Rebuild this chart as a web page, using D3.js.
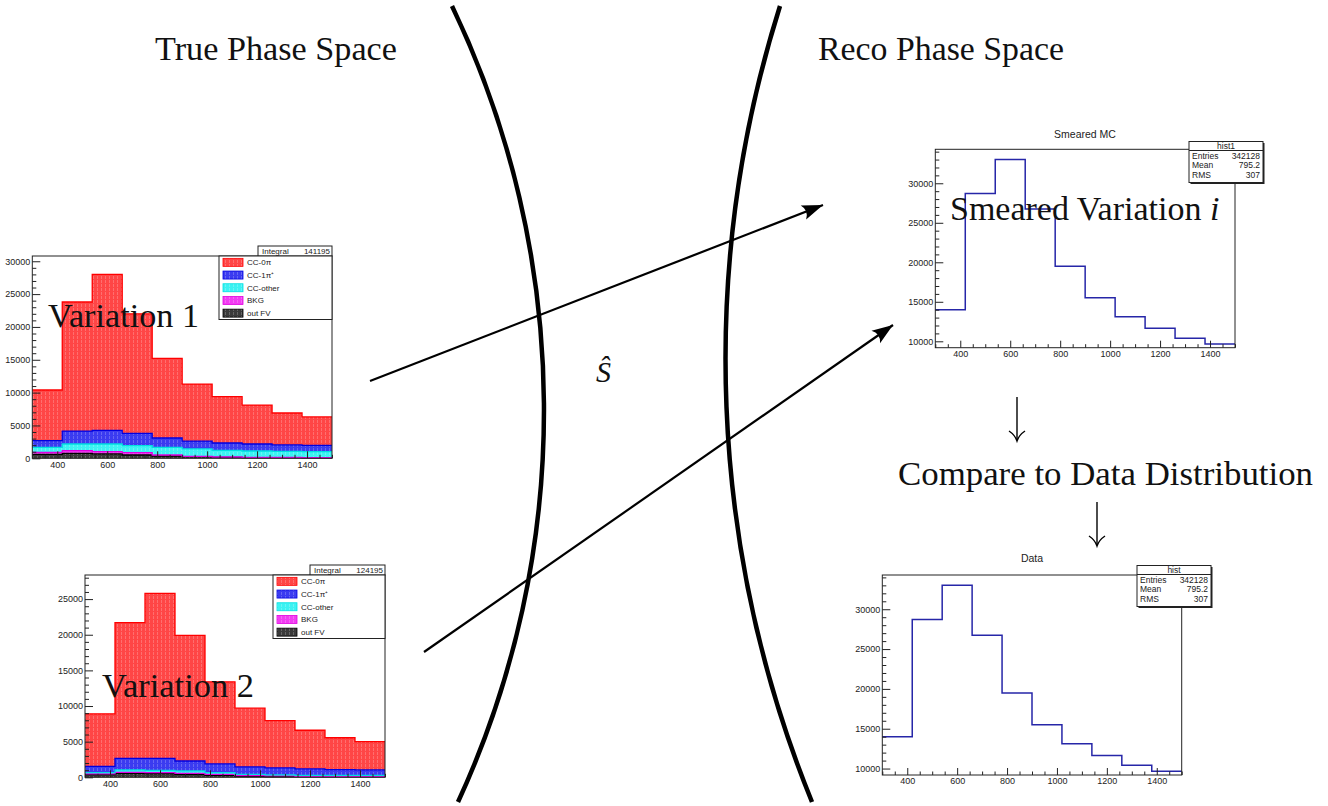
<!DOCTYPE html>
<html>
<head>
<meta charset="utf-8">
<script src="https://cdn.jsdelivr.net/npm/d3@7"></script>
<style>
  body { margin: 0; background: #fff; }
  svg { display: block; }
  .tick text { font-family: "Liberation Sans", Arial, sans-serif; font-size: 9px; fill: #222; }
  .tick line { stroke: #222; }
</style>
</head>
<body>
<svg width="1328" height="806"></svg>
<script>
var svg = d3.select("svg");

// ---- data ----
var binEdges = [300, 420, 540, 660, 780, 900, 1020, 1140, 1260, 1380, 1500];

// Variation 1 (stack components, bottom to top)
var v1OutFV   = [600, 750, 660, 500, 350, 250, 150, 100, 100, 60];
var v1Bkg     = [310, 410, 350, 360, 150, 50, 50, 50, 50, 40];
var v1CCother = [760, 1020, 1170, 1060, 1170, 1120, 1010, 960, 910, 910];
var v1CC1pi   = [1010, 1970, 2070, 1880, 1420, 1210, 1120, 1070, 970, 960];
var v1CC0pi   = [7720, 19650, 23750, 18200, 12110, 8670, 7070, 5920, 4870, 4330];

// Variation 2
var v2OutFV   = [380, 560, 510, 420, 280, 140, 100, 90, 90, 90];
var v2Bkg     = [100, 140, 140, 140, 140, 90, 90, 50, 50, 50];
var v2CCother = [170, 330, 330, 330, 230, 190, 140, 140, 140, 140];
var v2CC1pi   = [890, 1630, 1680, 1400, 1220, 1030, 980, 890, 790, 750];
var v2CC0pi   = [7360, 19040, 23140, 17610, 11530, 8250, 6640, 5430, 4480, 3970];

// Reco-space histograms
var smearedMC = [14000, 28700, 33000, 26750, 19500, 15500, 13100, 11650, 10400, 9650];
var dataHist  = [14000, 28700, 33000, 26750, 19500, 15500, 13100, 11650, 10400, 9650];

var layerKeys = ["outFV", "bkg", "ccOther", "cc1pi", "cc0pi"];
var legendLabels = ["CC-0π", "CC-1π⁺", "CC-other", "BKG", "out FV"];
var xTicks = [400, 600, 800, 1000, 1200, 1400];
var stackYTicks1 = [0, 5000, 10000, 15000, 20000, 25000, 30000];
var stackYTicks2 = [0, 5000, 10000, 15000, 20000, 25000];
var recoYTicks = [10000, 15000, 20000, 25000, 30000];
var recoYRange = [9190, 34300];
var statLabels = ["Entries", "Mean", "RMS"];
var statValues = ["342128", "795.2", "307"];

// ---- styles ----
var layerFill = { cc0pi: "#ff4646", cc1pi: "#3b3bf0", ccOther: "#3cf2f2", bkg: "#f23cf2", outFV: "#3a3a3a" };
var layerLine = { cc0pi: "#ff0000", cc1pi: "#0000e0", ccOther: "#00e0e0", bkg: "#e000e0", outFV: "#000000" };
var sans = "'Liberation Sans', Arial, sans-serif";
var serif = "'Liberation Serif', 'Times New Roman', serif";

var defs = svg.append("defs");
layerKeys.forEach(function(k) {
  var p = defs.append("pattern")
      .attr("id", "pat-" + k)
      .attr("patternUnits", "userSpaceOnUse")
      .attr("width", 4).attr("height", 4);
  p.append("rect").attr("width", 4).attr("height", 4).attr("fill", layerFill[k]);
  p.append("rect").attr("x", 1).attr("width", 1).attr("height", 3)
      .attr("fill", "#fff").attr("opacity", 0.22);
});

defs.append("marker")
    .attr("id", "head")
    .attr("viewBox", "-22 -9 24 18")
    .attr("markerUnits", "userSpaceOnUse")
    .attr("markerWidth", 24).attr("markerHeight", 18)
    .attr("refX", 0).attr("refY", 0)
    .attr("orient", "auto")
  .append("path")
    .attr("d", "M0,0 L-21,-7.5 Q-15,0 -21,7.5 Z")
    .attr("fill", "#000");

function drawAxes(g, x, y, cfg) {
  var xa = d3.axisBottom(x).tickValues(xTicks).tickSizeInner(-7).tickSizeOuter(0)
      .tickPadding(3).tickFormat(d3.format("d"));
  g.append("g").attr("transform", "translate(0," + cfg.bottom + ")").call(xa)
      .call(function(s) { s.select(".domain").remove(); });

  var xm = d3.range(300, 1501, 50).filter(function(v) { return xTicks.indexOf(v) < 0; });
  g.append("g").attr("transform", "translate(0," + cfg.bottom + ")")
      .call(d3.axisBottom(x).tickValues(xm).tickSizeInner(-3.5).tickSizeOuter(0).tickFormat(""))
      .call(function(s) { s.select(".domain").remove(); });

  var ya = d3.axisLeft(y).tickValues(cfg.yTicks).tickSizeInner(-8).tickSizeOuter(0)
      .tickPadding(2).tickFormat(d3.format("d"));
  g.append("g").attr("transform", "translate(" + cfg.left + ",0)").call(ya)
      .call(function(s) { s.select(".domain").remove(); });

  var dom = y.domain();
  var ym = d3.range(Math.ceil(dom[0] / 1000) * 1000, dom[1], 1000)
      .filter(function(v) { return cfg.yTicks.indexOf(v) < 0; });
  g.append("g").attr("transform", "translate(" + cfg.left + ",0)")
      .call(d3.axisLeft(y).tickValues(ym).tickSizeInner(-4).tickSizeOuter(0).tickFormat(""))
      .call(function(s) { s.select(".domain").remove(); });

  g.append("rect")
      .attr("x", cfg.left).attr("y", cfg.top)
      .attr("width", cfg.right - cfg.left).attr("height", cfg.bottom - cfg.top)
      .attr("fill", "none").attr("stroke", "#222").attr("stroke-width", 1);
}

function stackPlot(cfg) {
  var g = svg.append("g");
  var x = d3.scaleLinear()
      .domain([binEdges[0], binEdges[binEdges.length - 1]])
      .range([cfg.left, cfg.right]);

  var rows = binEdges.slice(0, -1).map(function(e, i) {
    var r = { x: e };
    layerKeys.forEach(function(k) { r[k] = cfg.layers[k][i]; });
    return r;
  });
  var series = d3.stack().keys(layerKeys)(rows);
  var ymax = 1.1 * d3.max(series[series.length - 1], function(d) { return d[1]; });
  var y = d3.scaleLinear().domain([0, ymax]).range([cfg.bottom, cfg.top]);

  function pts(s) {
    var p = s.map(function(d, i) { return { x: binEdges[i], y0: d[0], y1: d[1] }; });
    var last = p[p.length - 1];
    p.push({ x: binEdges[binEdges.length - 1], y0: last.y0, y1: last.y1 });
    return p;
  }
  var area = d3.area().curve(d3.curveStepAfter)
      .x(function(d) { return x(d.x); })
      .y0(function(d) { return y(d.y0); })
      .y1(function(d) { return y(d.y1); });
  var line = d3.line().curve(d3.curveStepAfter)
      .x(function(d) { return x(d.x); })
      .y(function(d) { return y(d.y1); });

  series.forEach(function(s) {
    g.append("path").attr("d", area(pts(s))).attr("fill", "url(#pat-" + s.key + ")");
  });
  series.forEach(function(s) {
    g.append("path").attr("d", line(pts(s))).attr("fill", "none")
        .attr("stroke", layerLine[s.key]).attr("stroke-width", 1.3);
  });

  drawAxes(g, x, y, cfg);

  // integral box
  var ib = cfg.integralLeft;
  g.append("rect").attr("x", ib).attr("y", cfg.top - 10)
      .attr("width", cfg.right - ib).attr("height", 10)
      .attr("fill", "#fff").attr("stroke", "#222");
  g.append("text").attr("x", ib + 4).attr("y", cfg.top - 2.5)
      .attr("font-family", sans).attr("font-size", 8).attr("fill", "#222").text("Integral");
  g.append("text").attr("x", cfg.right - 2).attr("y", cfg.top - 2.5).attr("text-anchor", "end")
      .attr("font-family", sans).attr("font-size", 8).attr("fill", "#222").text(cfg.integral);

  // legend
  var lx = cfg.legendLeft, ly = cfg.top, lh = cfg.legendBottom - cfg.top, rh = lh / 5;
  g.append("rect").attr("x", lx).attr("y", ly).attr("width", cfg.right - lx).attr("height", lh)
      .attr("fill", "#fff").attr("stroke", "#222");
  layerKeys.slice().reverse().forEach(function(k, i) {
    var cy = ly + rh * (i + 0.5);
    g.append("rect").attr("x", lx + 4).attr("y", cy - 4).attr("width", 20).attr("height", 8)
        .attr("fill", "url(#pat-" + k + ")").attr("stroke", layerLine[k]).attr("stroke-width", 0.8);
    g.append("text").attr("x", lx + 28).attr("y", cy + 3)
        .attr("font-family", sans).attr("font-size", 8).attr("fill", "#222").text(legendLabels[i]);
  });
  return g;
}

function statBox(g, b, name) {
  g.append("rect").attr("x", b.x + 1.5).attr("y", b.y + 1.5).attr("width", b.w).attr("height", b.h)
      .attr("fill", "#222");
  g.append("rect").attr("x", b.x).attr("y", b.y).attr("width", b.w).attr("height", b.h)
      .attr("fill", "#fff").attr("stroke", "#222");
  g.append("line").attr("x1", b.x).attr("x2", b.x + b.w).attr("y1", b.y + 9).attr("y2", b.y + 9)
      .attr("stroke", "#222");
  g.append("text").attr("x", b.x + b.w / 2).attr("y", b.y + 7.5).attr("text-anchor", "middle")
      .attr("font-family", sans).attr("font-size", 8.5).attr("fill", "#222").text(name);
  var base = [17.5, 26.5, 36.5];
  statLabels.forEach(function(lab, i) {
    g.append("text").attr("x", b.x + 3).attr("y", b.y + base[i])
        .attr("font-family", sans).attr("font-size", 8.5).attr("fill", "#222").text(lab);
    g.append("text").attr("x", b.x + b.w - 3).attr("y", b.y + base[i]).attr("text-anchor", "end")
        .attr("font-family", sans).attr("font-size", 8.5).attr("fill", "#222").text(statValues[i]);
  });
}

function stepPlot(cfg) {
  var g = svg.append("g");
  var x = d3.scaleLinear()
      .domain([binEdges[0], binEdges[binEdges.length - 1]])
      .range([cfg.left, cfg.right]);
  var y = d3.scaleLinear().domain(recoYRange).range([cfg.bottom, cfg.top]);

  var p = cfg.values.map(function(v, i) { return { x: binEdges[i], v: v }; });
  p.push({ x: binEdges[binEdges.length - 1], v: cfg.values[cfg.values.length - 1] });
  var line = d3.line().curve(d3.curveStepAfter)
      .x(function(d) { return x(d.x); })
      .y(function(d) { return y(d.v); });
  g.append("path").attr("d", line(p)).attr("fill", "none")
      .attr("stroke", "#2626a8").attr("stroke-width", 1.5);

  drawAxes(g, x, y, cfg);

  g.append("text").attr("x", cfg.titleX).attr("y", cfg.titleY).attr("text-anchor", "middle")
      .attr("font-family", sans).attr("font-size", 10.5).attr("fill", "#222").text(cfg.title);
  statBox(g, cfg.stat, cfg.statName);
  return g;
}

// ---- histograms ----
stackPlot({
  left: 32.3, right: 332, top: 256, bottom: 458.3,
  yTicks: stackYTicks1,
  layers: { outFV: v1OutFV, bkg: v1Bkg, ccOther: v1CCother, cc1pi: v1CC1pi, cc0pi: v1CC0pi },
  integral: "141195", integralLeft: 258, legendLeft: 219, legendBottom: 319.5
});

stackPlot({
  left: 85, right: 385, top: 575, bottom: 777.3,
  yTicks: stackYTicks2,
  layers: { outFV: v2OutFV, bkg: v2Bkg, ccOther: v2CCother, cc1pi: v2CC1pi, cc0pi: v2CC0pi },
  integral: "124195", integralLeft: 310, legendLeft: 273, legendBottom: 638.5
});

stepPlot({
  left: 935.3, right: 1235, top: 149.3, bottom: 347.7,
  yTicks: recoYTicks, values: smearedMC,
  title: "Smeared MC", titleX: 1085, titleY: 138,
  stat: { x: 1189, y: 141.5, w: 74, h: 41 }, statName: "hist1"
});

stepPlot({
  left: 882.3, right: 1181.7, top: 575, bottom: 775,
  yTicks: recoYTicks, values: dataHist,
  title: "Data", titleX: 1032, titleY: 562,
  stat: { x: 1137, y: 565.5, w: 74, h: 41 }, statName: "hist"
});

// ---- diagram ----
var ink = svg.append("g");
ink.append("path").attr("d", "M452,6 A935,935 0 0,1 458,802")
    .attr("fill", "none").attr("stroke", "#000").attr("stroke-width", 4.5);
ink.append("path").attr("d", "M780,6 A1175,1175 0 0,0 812,802")
    .attr("fill", "none").attr("stroke", "#000").attr("stroke-width", 4.5);

ink.append("line").attr("x1", 370).attr("y1", 381).attr("x2", 823).attr("y2", 205)
    .attr("stroke", "#000").attr("stroke-width", 2.2).attr("marker-end", "url(#head)");
ink.append("line").attr("x1", 424).attr("y1", 652).attr("x2", 893).attr("y2", 325)
    .attr("stroke", "#000").attr("stroke-width", 2.2).attr("marker-end", "url(#head)");

function downArrow(x, y0, y1) {
  ink.append("line").attr("x1", x).attr("x2", x).attr("y1", y0).attr("y2", y1 - 1)
      .attr("stroke", "#000").attr("stroke-width", 1.4);
  ink.append("path")
      .attr("d", "M" + (x - 8) + "," + (y1 - 10) + " Q" + (x - 2) + "," + (y1 - 6) + " " + x + "," + y1 +
                 " Q" + (x + 2) + "," + (y1 - 6) + " " + (x + 8) + "," + (y1 - 10))
      .attr("fill", "none").attr("stroke", "#000").attr("stroke-width", 1.4);
}
downArrow(1017, 397, 441);
downArrow(1097, 502, 546);

function bigText(x, y, str, len) {
  return ink.append("text").attr("x", x).attr("y", y)
      .attr("font-family", serif).attr("font-size", 34).attr("fill", "#111")
      .attr("textLength", len).attr("lengthAdjust", "spacingAndGlyphs")
      .text(str);
}
bigText(155, 60, "True Phase Space", 242);
bigText(818, 60, "Reco Phase Space", 246);
bigText(48, 327, "Variation 1", 151);
bigText(102, 697, "Variation 2", 152);
bigText(898, 485, "Compare to Data Distribution", 415);

var sv = ink.append("text").attr("x", 950).attr("y", 220)
    .attr("font-family", serif).attr("font-size", 34).attr("fill", "#111");
sv.append("tspan").text("Smeared Variation ");
sv.append("tspan").attr("font-style", "italic").text("i");

ink.append("text").attr("x", 596).attr("y", 382)
    .attr("font-family", serif).attr("font-size", 30).attr("font-style", "italic").attr("fill", "#111")
    .text("Ŝ");
</script>
</body>
</html>
